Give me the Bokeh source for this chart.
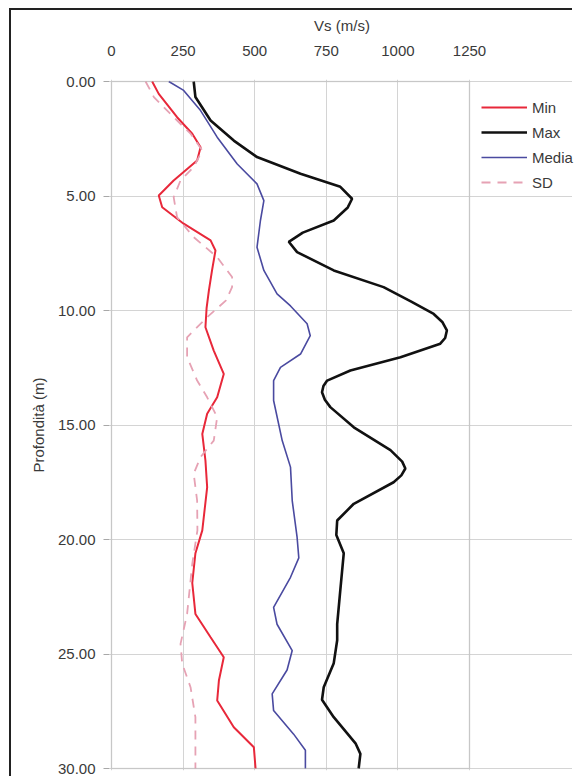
from bokeh.plotting import figure
from bokeh.models import (Range1d, FixedTicker, Legend, LegendItem, NumeralTickFormatter,
                          LinearAxis, BoxAnnotation)
from bokeh.embed import file_html
from bokeh.resources import INLINE

# ---- data ----
max_depth = [0.0, 0.68, 1.7, 2.58, 3.3, 4.03, 4.6, 5.12, 5.5, 6.07, 6.6, 7.0, 7.45, 8.25, 8.98, 9.6, 10.15, 10.5,
             10.87, 11.2, 11.45, 12.04, 12.62, 13.06, 13.3, 13.57, 13.9, 14.22, 15.1, 16.1, 16.6, 16.9, 17.2,
             17.5, 18.44, 19.17, 19.8, 20.6, 22.2, 23.7, 24.4, 25.4, 26.45, 27.0, 27.76, 28.9, 29.36, 30.0]
max_vs = [287, 293, 346, 427, 508, 660, 799, 840, 825, 776, 668, 619, 648, 776, 950, 1045, 1125, 1155,
          1171, 1165, 1148, 1009, 834, 753, 740, 735, 745, 764, 846, 974, 1015, 1026, 1012,
          985, 846, 788, 785, 811, 799, 788, 788, 776, 741, 735, 776, 852, 869, 863]

media_depth = [0.0, 0.39, 1.27, 2.43, 3.6, 4.47, 5.2, 6.07, 7.24, 8.25, 9.27, 9.8, 10.58, 11.1, 11.9, 12.48,
               13.06, 13.93, 15.68, 16.84, 18.3, 19.9, 20.8, 21.65, 22.96, 23.7, 24.85, 25.7, 26.74, 27.47,
               28.5, 29.2, 30.0]
media_vs = [200, 252, 311, 369, 439, 508, 532, 520, 508, 532, 578, 625, 683, 694, 660, 590,
            566, 566, 596, 625, 631, 648, 654, 625, 566, 578, 631, 613, 561, 566,
            636, 677, 677]

min_depth = [0.0, 0.54, 1.56, 2.28, 2.87, 3.45, 4.32, 4.98, 5.49, 6.21, 6.94, 7.38, 8.25, 9.13, 9.9, 10.73,
             11.75, 12.77, 13.79, 14.51, 15.39, 16.55, 17.72, 19.6, 20.6, 21.9, 23.25, 24.27, 25.14, 26.16,
             27.03, 28.2, 29.07, 30.0]
min_vs = [142, 165, 229, 282, 311, 299, 217, 165, 177, 252, 346, 363, 351, 340, 332, 328,
          357, 392, 369, 334, 317, 328, 334, 317, 293, 282, 293, 346, 392, 375,
          369, 427, 497, 503]

sd_depth = [0.0, 0.68, 1.56, 2.28, 3.01, 3.74, 4.32, 5.05, 5.93, 6.8, 7.67, 8.54, 8.98, 9.56, 10.29, 11.17,
            12.04, 13.06, 13.79, 14.66, 15.68, 16.4, 17.13, 18.3, 19.6, 21.06, 23.25, 24.56, 25.43, 26.45,
            27.76, 30.0]
sd_vs = [119, 148, 217, 276, 317, 287, 241, 217, 229, 287, 369, 421, 421, 400, 334, 264,
         264, 299, 334, 369, 357, 311, 287, 299, 300, 282, 264, 241, 247, 276,
         293, 293]

x_ticks = [0, 250, 500, 750, 1000, 1250]
y_ticks = [0, 5, 10, 15, 20, 25, 30]
series_names = ["Min", "Max", "Media", "SD"]
X_MAX = 1250
Y_MAX = 30

FONT = "Liberation Sans"
TXT = "#3a3a3a"

# ---- layout (pixels) ----
CANVAS_LEFT, CANVAS_TOP = 11, 10
W, H = 563, 768
PLOT_L, PLOT_R, PLOT_T, PLOT_B = 111, 469, 81, 768   # where 0..1250 / 0..30 land
FRAME_L, FRAME_T, FRAME_B = 109, 79, 770
FRAME_R = CANVAS_LEFT + W
sx = (PLOT_R - PLOT_L) / X_MAX
sy = (PLOT_B - PLOT_T) / Y_MAX
x_range = Range1d((FRAME_L - PLOT_L) / sx, (FRAME_R - PLOT_L) / sx)
y_range = Range1d(Y_MAX + (FRAME_B - PLOT_B) / sy, (FRAME_T - PLOT_T) / sy)

p = figure(width=W, height=H, output_backend="svg", toolbar_location=None,
           x_range=x_range, y_range=y_range,
           x_axis_location=None, y_axis_location=None,
           min_border_left=FRAME_L - CANVAS_LEFT, min_border_right=0,
           min_border_top=FRAME_T - CANVAS_TOP,
           min_border_bottom=CANVAS_TOP + H - FRAME_B)
p.styles = {"margin-left": "9px", "margin-top": "8px",
            "border-left": "2px solid #222", "border-top": "2px solid #222"}

p.outline_line_color = None
p.background_fill_color = "white"
p.border_fill_color = "white"

xaxis = LinearAxis(axis_label="Vs (m/s)", ticker=FixedTicker(ticks=x_ticks), bounds=(0, X_MAX))
xaxis.axis_line_color = None
xaxis.major_tick_line_color = None
xaxis.minor_tick_line_color = None
xaxis.major_label_standoff = 18
xaxis.axis_label_standoff = 9
p.add_layout(xaxis, "above")

yaxis = LinearAxis(axis_label="Profondità (m)", ticker=FixedTicker(ticks=y_ticks),
                   formatter=NumeralTickFormatter(format="0.00"), bounds=(0, Y_MAX))
yaxis.axis_line_color = None
yaxis.major_tick_line_color = "#a8a8a8"
yaxis.major_tick_out = 6
yaxis.major_tick_in = 0
yaxis.minor_tick_line_color = None
yaxis.major_label_standoff = 8
yaxis.axis_label_standoff = 8
p.add_layout(yaxis, "left")

for ax in (xaxis, yaxis):
    ax.major_label_text_font = FONT
    ax.major_label_text_font_size = "15px"
    ax.major_label_text_color = TXT
    ax.axis_label_text_font = FONT
    ax.axis_label_text_font_size = "15px"
    ax.axis_label_text_font_style = "normal"
    ax.axis_label_text_color = TXT

p.xgrid.ticker = FixedTicker(ticks=x_ticks)
p.ygrid.ticker = FixedTicker(ticks=y_ticks)
p.xgrid.bounds = (0, Y_MAX)
p.ygrid.bounds = (0, X_MAX)
p.grid.grid_line_color = "#d4d4d4"
p.grid.grid_line_width = 1

# plot-area frame (gray box around 0..1250 x 0..30)
p.add_layout(BoxAnnotation(left=0, right=X_MAX, top=0, bottom=Y_MAX, fill_alpha=0,
                           line_color="#a8a8a8", line_width=1.6))

r_min = p.line(min_vs, min_depth, line_color="#e8283a", line_width=2)
r_max = p.line(max_vs, max_depth, line_color="#111111", line_width=2.6)
r_med = p.line(media_vs, media_depth, line_color="#4a4aa0", line_width=1.6)
r_sd = p.line(sd_vs, sd_depth, line_color="#e6a2b4", line_width=1.8, line_dash="9 7")

LEG_X, LEG_TOP = 481, 97
legend = Legend(items=[LegendItem(label=n, renderers=[r]) for n, r in
                       zip(series_names, [r_min, r_max, r_med, r_sd])])
legend.glyph_width = 46
legend.glyph_height = 20
legend.label_height = 20
legend.spacing = 5
legend.padding = 0
legend.margin = 0
legend.label_standoff = 5
legend.border_line_color = None
legend.background_fill_alpha = 0
legend.label_text_font = FONT
legend.label_text_font_size = "15px"
legend.label_text_color = TXT
leg_h = 4 * 20 + 3 * 5
legend.location = (LEG_X - FRAME_L, (FRAME_B - FRAME_T) - (LEG_TOP - FRAME_T) - leg_h)
p.add_layout(legend, "center")

open("out.html", "w").write(file_html(p, INLINE))
